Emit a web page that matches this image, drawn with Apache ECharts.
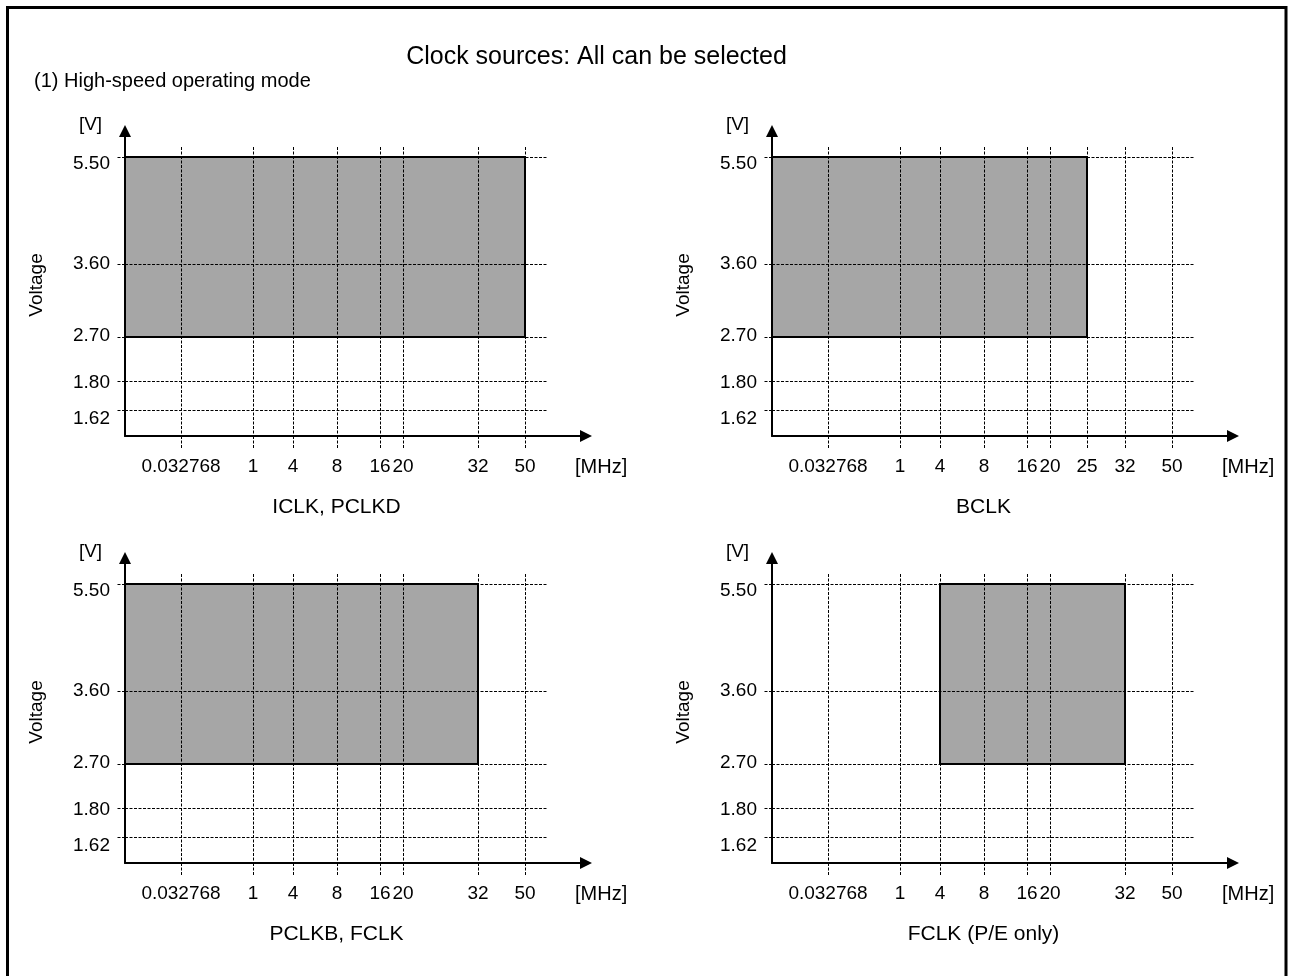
<!DOCTYPE html>
<html>
<head>
<meta charset="utf-8">
<script src="https://cdn.jsdelivr.net/npm/echarts@6/dist/echarts.min.js"></script>
<style>
  html, body { margin: 0; padding: 0; background: #fff; }
  #chart { width: 1290px; height: 976px; }
</style>
</head>
<body>
<div id="chart"></div>
<script>
// ---------------- DATA ----------------
const chartTitle = 'Clock sources: All can be selected';
const chartSubtitle = '(1) High-speed operating mode';
const panelTitles = ['ICLK, PCLKD', 'BCLK', 'PCLKB, FCLK', 'FCLK (P/E only)'];
const freqTicks = [
  ['0.032768', '1', '4', '8', '16', '20', '32', '50'],
  ['0.032768', '1', '4', '8', '16', '20', '25', '32', '50'],
  ['0.032768', '1', '4', '8', '16', '20', '32', '50'],
  ['0.032768', '1', '4', '8', '16', '20', '32', '50']
];
const voltTicks = ['1.62', '1.80', '2.70', '3.60', '5.50'];
// operating region of each panel: frequency [MHz] from..to, voltage [V] from..to
const regionFreqMin = [0, 0, 0, 4];
const regionFreqMax = [50, 25, 32, 32];
const regionVoltMin = [2.70, 2.70, 2.70, 2.70];
const regionVoltMax = [5.50, 5.50, 5.50, 5.50];
const xUnit = '[MHz]';
const yUnit = '[V]';
const yName = 'Voltage';

// ---------------- LAYOUT (schematic, non-linear axes) ----------------
// position of each tick along the schematic axes (px from the origin)
const freqSlot = { '0': 0, '0.032768': 56, '1': 128, '4': 168, '8': 212, '16': 255, '20': 278, '25': 315, '32': 353, '50': 400 };
const voltSlot = { '1.62': 26, '1.80': 55, '2.70': 99, '3.60': 172, '5.50': 279 };
const voltLabelShift = { '1.62': -9, '1.80': -2, '2.70': 1, '3.60': 0, '5.50': -7 };
const origins = [[125, 436], [772, 436], [125, 863], [772, 863]];
const MAIN_W = 423, MAIN_H = 289;      // gridline extent
const ARROW_W = 467, ARROW_H = 311;    // axis arrow tips
const ARROW_LEN = 12;
const FONT = '"Liberation Sans", Arial, Helvetica, sans-serif';
const DASH = [3, 1.5];

function fSlot(v) { return freqSlot[String(Number(v))] !== undefined ? freqSlot[String(Number(v))] : freqSlot[v]; }
function vKey(v) { return Number(v).toFixed(2); }
function vSlot(v) { return voltSlot[vKey(v)]; }

const grids = [], xAxes = [], yAxes = [], series = [], graphics = [];

origins.forEach(function (o, i) {
  const ox = o[0], oy = o[1];
  const mainIdx = 2 * i, arrowIdx = 2 * i + 1;
  grids.push({ left: ox, top: oy - MAIN_H, width: MAIN_W, height: MAIN_H, outerBoundsMode: 'none', containLabel: false });
  grids.push({ left: ox, top: oy - ARROW_H + ARROW_LEN / 2, width: ARROW_W - ARROW_LEN / 2, height: ARROW_H - ARROW_LEN / 2, outerBoundsMode: 'none', containLabel: false });

  const xs = freqTicks[i].map(function (t) { return freqSlot[t]; });
  const xLabelBySlot = {};
  freqTicks[i].forEach(function (t) { xLabelBySlot[freqSlot[t]] = t; });
  const ys = voltTicks.map(function (t) { return voltSlot[t]; });
  const yLabelSlots = voltTicks.map(function (t) { return voltSlot[t] + voltLabelShift[t]; });
  const yLabelBySlot = {};
  voltTicks.forEach(function (t) { yLabelBySlot[voltSlot[t] + voltLabelShift[t]] = t; });

  xAxes.push({
    type: 'value', gridIndex: mainIdx, min: 0, max: MAIN_W, z: 3,
    axisLine: { show: false, onZero: false },
    axisTick: { show: true, customValues: xs, length: 13, inside: false, lineStyle: { color: '#000', width: 1, type: DASH } },
    axisLabel: {
      customValues: xs, margin: 21, color: '#000', fontSize: 19, fontFamily: FONT,
      formatter: function (v) { return xLabelBySlot[v] !== undefined ? xLabelBySlot[v] : ''; }
    },
    splitLine: { show: true, lineStyle: { color: '#000', width: 1, type: DASH } }
  });
  yAxes.push({
    type: 'value', gridIndex: mainIdx, min: 0, max: MAIN_H, z: 3,
    axisLine: { show: false, onZero: false },
    axisTick: { show: true, customValues: ys, length: 8, inside: false, lineStyle: { color: '#000', width: 1, type: DASH } },
    axisLabel: {
      customValues: yLabelSlots, margin: 15, color: '#000', fontSize: 19, fontFamily: FONT,
      formatter: function (v) { return yLabelBySlot[v] !== undefined ? yLabelBySlot[v] : ''; }
    },
    splitLine: { show: true, lineStyle: { color: '#000', width: 1, type: DASH } }
  });
  xAxes.push({
    type: 'value', gridIndex: arrowIdx, min: 0, max: 1, z: 4,
    axisLine: { show: true, onZero: false, symbol: ['none', 'triangle'], symbolSize: [ARROW_LEN, ARROW_LEN], lineStyle: { color: '#000', width: 2 } },
    axisTick: { show: false }, axisLabel: { show: false }, splitLine: { show: false }
  });
  yAxes.push({
    type: 'value', gridIndex: arrowIdx, min: 0, max: 1, z: 4,
    axisLine: { show: true, onZero: false, symbol: ['none', 'triangle'], symbolSize: [ARROW_LEN, ARROW_LEN], lineStyle: { color: '#000', width: 2 } },
    axisTick: { show: false }, axisLabel: { show: false }, splitLine: { show: false }
  });

  series.push({
    type: 'custom', xAxisIndex: mainIdx, yAxisIndex: mainIdx, z: 1, silent: true, clip: false,
    data: [[fSlot(regionFreqMin[i]), fSlot(regionFreqMax[i]), vSlot(regionVoltMin[i]), vSlot(regionVoltMax[i])]],
    renderItem: function (params, api) {
      const p0 = api.coord([api.value(0), api.value(2)]);
      const p1 = api.coord([api.value(1), api.value(3)]);
      return {
        type: 'rect',
        shape: { x: p0[0], y: p1[1], width: p1[0] - p0[0], height: p0[1] - p1[1] },
        style: { fill: '#a6a6a6', stroke: '#000', lineWidth: 2 }
      };
    }
  });

  // texts
  graphics.push({ type: 'text', x: ox + 450, y: oy + 31, style: { text: xUnit, fill: '#000', font: '20px ' + FONT, align: 'left', verticalAlign: 'middle' } });
  graphics.push({ type: 'text', x: ox + MAIN_W / 2, y: oy + 71, style: { text: panelTitles[i], fill: '#000', font: '21px ' + FONT, align: 'center', verticalAlign: 'middle' } });
  graphics.push({ type: 'text', x: ox - 34.5, y: oy - 311, style: { text: yUnit, fill: '#000', font: '19px ' + FONT, align: 'center', verticalAlign: 'middle' } });
  graphics.push({ type: 'text', x: ox - 88, y: oy - 151, rotation: Math.PI / 2, style: { text: yName, fill: '#000', font: '19px ' + FONT, align: 'center', verticalAlign: 'middle' } });
});

graphics.push({ type: 'rect', shape: { x: 7.5, y: 7.5, width: 1278.5, height: 1100 }, style: { fill: 'none', stroke: '#000', lineWidth: 3 }, z: 10 });
graphics.push({ type: 'text', x: 596.5, y: 57, style: { text: chartTitle, fill: '#000', font: '25px ' + FONT, align: 'center', verticalAlign: 'middle' } });
graphics.push({ type: 'text', x: 34, y: 81, style: { text: chartSubtitle, fill: '#000', font: '20px ' + FONT, align: 'left', verticalAlign: 'middle' } });

const chart = echarts.init(document.getElementById('chart'), null, { renderer: 'canvas' });
chart.setOption({
  animation: false,
  backgroundColor: '#fff',
  grid: grids,
  xAxis: xAxes,
  yAxis: yAxes,
  series: series,
  graphic: { elements: graphics }
});
</script>
</body>
</html>
